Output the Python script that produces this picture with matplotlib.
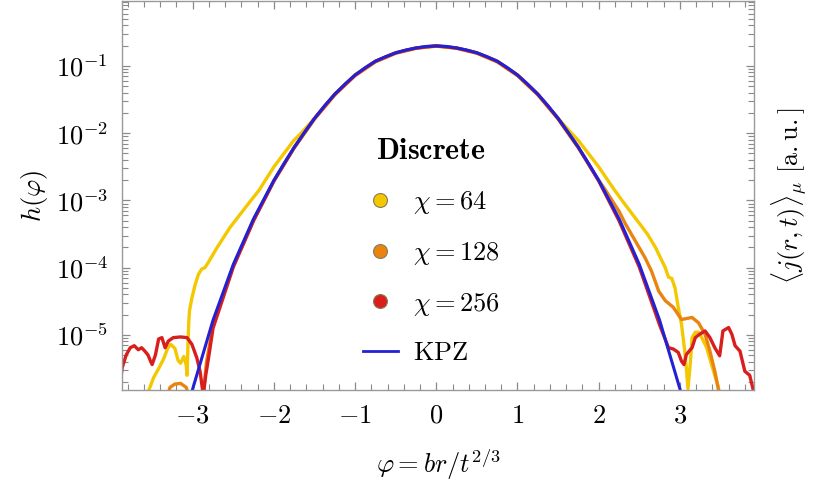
import numpy as np
import matplotlib
matplotlib.use('Agg')
import matplotlib.pyplot as plt
from matplotlib.lines import Line2D
from matplotlib.ticker import MultipleLocator, LogLocator, NullFormatter

plt.rcParams['mathtext.fontset'] = 'cm'
plt.rcParams['font.family'] = 'serif'
plt.rcParams['font.serif'] = ['cmr10', 'DejaVu Serif']

# KPZ scaling curve, log10 h
kpz_phi = [-3.25, -3.0, -2.75, -2.5, -2.25, -2.0, -1.875, -1.75, -1.625, -1.5, -1.375, -1.25, -1.125, -1.0,
           -0.875, -0.75, -0.625, -0.5, -0.375, -0.25, -0.125, 0.0,
           0.125, 0.25, 0.375, 0.5, 0.625, 0.75, 0.875, 1.0, 1.125, 1.25, 1.375, 1.5, 1.625, 1.75, 1.875,
           2.0, 2.25, 2.5, 2.75, 3.0, 3.25]
kpz_log = [-7.0, -5.8, -4.78, -3.95, -3.27, -2.70, -2.45, -2.21, -1.99, -1.78, -1.59, -1.42, -1.27, -1.135,
           -1.025, -0.93, -0.862, -0.805, -0.763, -0.733, -0.71, -0.703,
           -0.71, -0.733, -0.763, -0.805, -0.862, -0.93, -1.025, -1.135, -1.27, -1.42, -1.59, -1.78, -1.99, -2.21, -2.45,
           -2.70, -3.27, -3.95, -4.78, -5.8, -7.0]

# chi = 64
phi_64 = [-3.55, -3.48, -3.42, -3.36, -3.31, -3.27, -3.22, -3.18, -3.15, -3.11, -3.08, -3.07, -3.06, -3.05,
          -3.04, -3.01, -2.97, -2.93, -2.89, -2.85, -2.81, -2.70, -2.54, -2.29, -2.19, -2.0, -1.76, -1.65, -1.5,
          -1.25, -1.0, -0.75, -0.5, -0.25, 0.0, 0.25, 0.5, 0.75, 1.0, 1.25, 1.5,
          1.65, 1.75, 2.0, 2.18, 2.3, 2.45, 2.6, 2.70, 2.82, 2.86, 2.90, 2.94, 2.98, 3.02, 3.04, 3.06, 3.08, 3.10,
          3.13, 3.15, 3.19, 3.23, 3.27, 3.33, 3.39, 3.45, 3.50]
log_64 = [-5.85, -5.63, -5.5, -5.36, -5.2, -5.14, -5.2, -5.38, -5.42, -5.32, -5.45, -5.6, -5.2, -4.84,
          -4.64, -4.45, -4.25, -4.10, -4.02, -4.0, -3.925, -3.70, -3.40, -3.01, -2.86, -2.50, -2.115, -1.98, -1.78,
          -1.42, -1.135, -0.93, -0.805, -0.733, -0.703, -0.733, -0.805, -0.93, -1.135, -1.42, -1.78,
          -1.98, -2.11, -2.5, -2.82, -3.02, -3.26, -3.5, -3.70, -4.0, -4.14, -4.16, -4.30, -4.59, -4.84, -5.04, -5.24, -5.5, -5.8,
          -5.4, -5.04, -4.96, -4.96, -5.04, -5.19, -5.44, -5.68, -5.9]

# chi = 128
phi_128 = [-3.33, -3.28, -3.22, -3.15, -3.08, -3.03, -2.88, -2.83, -2.75, -2.5, -2.25, -2.0, -1.75, -1.5,
           -1.25, -1.0, -0.75, -0.5, -0.25, 0.0, 0.25, 0.5, 0.75, 1.0, 1.25, 1.5,
           1.75, 2.0, 2.08, 2.25, 2.33, 2.45, 2.57, 2.65, 2.74, 2.82, 2.92, 3.02, 3.15, 3.23, 3.31, 3.37,
           3.43, 3.47, 3.50]
log_128 = [-6.0, -5.78, -5.73, -5.72, -5.78, -6.0, -6.0, -5.4, -4.85, -3.97, -3.29, -2.71, -2.22, -1.79,
           -1.43, -1.145, -0.94, -0.812, -0.738, -0.706, -0.738, -0.812, -0.94, -1.145, -1.43, -1.79,
           -2.22, -2.70, -2.84, -3.16, -3.35, -3.60, -3.85, -4.05, -4.35, -4.49, -4.59, -4.77, -4.74, -4.82, -4.99, -5.24,
           -5.54, -5.78, -6.0]

# chi = 256
phi_256 = [-3.88, -3.87, -3.82, -3.77, -3.72, -3.67, -3.63, -3.59, -3.55, -3.52, -3.50, -3.46, -3.42, -3.38,
           -3.34, -3.30, -3.24, -3.15, -3.07, -3.01, -2.95, -2.91, -2.87, -2.84, -2.80, -2.75, -2.5, -2.25,
           -2.0, -1.75, -1.5, -1.25, -1.0, -0.75, -0.5, -0.25, 0.0, 0.25, 0.5, 0.75, 1.0, 1.25, 1.5,
           1.75, 2.0, 2.25, 2.5, 2.75, 2.86, 2.92, 2.98, 3.02, 3.05, 3.08, 3.15, 3.19, 3.23, 3.31, 3.37,
           3.43, 3.49, 3.53, 3.60, 3.64, 3.68, 3.74, 3.80, 3.86, 3.90]
log_256 = [-5.6, -5.49, -5.3, -5.19, -5.16, -5.22, -5.19, -5.24, -5.3, -5.39, -5.44, -5.3, -5.06, -5.04,
           -5.19, -5.09, -5.04, -5.03, -5.04, -5.14, -5.34, -5.54, -5.9, -5.6, -5.3, -4.9, -3.99, -3.30,
           -2.71, -2.21, -1.78, -1.42, -1.135, -0.93, -0.805, -0.733, -0.700, -0.733, -0.805, -0.93, -1.135, -1.42, -1.78,
           -2.21, -2.71, -3.30, -3.99, -4.85, -5.19, -5.21, -5.26, -5.39, -5.44, -5.29, -5.19, -5.04, -5.0, -4.94, -5.04,
           -5.19, -5.31, -4.94, -4.89, -4.99, -5.16, -5.24, -5.54, -5.6, -5.8]

labels = [r'$\chi = 64$', r'$\chi = 128$', r'$\chi = 256$']
colors = ['#f4c800', '#ea8410', '#d91e1e']
kpz_color = '#2222d4'

fig = plt.figure(figsize=(8.14, 4.87), dpi=100)
ax = fig.add_axes([0.150, 0.199, 0.776, 0.799])

series = [(phi_64, log_64), (phi_128, log_128), (phi_256, log_256)]
for (p, l), c in zip(series, colors):
    ax.plot(p, 10.0 ** np.array(l), color=c, lw=2.4, solid_joinstyle='round')
ax.plot(kpz_phi, 10.0 ** np.array(kpz_log), color=kpz_color, lw=2.2, solid_joinstyle='round')

ax.set_yscale('log')
ax.set_xlim(-3.87, 3.91)
ax.set_ylim(10 ** -5.82, 10 ** -0.034)

ax.set_xticks([-3, -2, -1, 0, 1, 2, 3])
ax.set_xticklabels([r'$-3$', r'$-2$', r'$-1$', r'$0$', r'$1$', r'$2$', r'$3$'])
ax.xaxis.set_minor_locator(MultipleLocator(0.2))
ax.set_yticks([1e-5, 1e-4, 1e-3, 1e-2, 1e-1])
ax.set_yticklabels([r'$10^{-5}$', r'$10^{-4}$', r'$10^{-3}$', r'$10^{-2}$', r'$10^{-1}$'])
ax.yaxis.set_minor_locator(LogLocator(base=10, subs=np.arange(2, 10)))
ax.yaxis.set_minor_formatter(NullFormatter())

ax.tick_params(which='both', direction='in', top=True, right=True, color='#8a8a8a', labelsize=19)
ax.tick_params(which='major', length=6, width=0.9, pad=10)
ax.tick_params(which='minor', length=4, width=0.8)
for s in ax.spines.values():
    s.set_color('#9a9a9a')
    s.set_linewidth(1.0)

ax.set_xlabel(r'$\varphi = br/t^{2/3}$', fontsize=19, labelpad=14)
ax.set_ylabel(r'$h(\varphi)$', fontsize=19, labelpad=4)
ax.text(1.057, 0.5, r'$\langle j(r,t)\rangle_{\mu}\ [\mathrm{a.u.}]$', transform=ax.transAxes,
        rotation=90, va='center', ha='center', fontsize=19)

handles = [Line2D([], [], ls='none', marker='o', ms=10, mfc=c, mec='#8a7a5a', mew=0.8) for c in colors]
handles.append(Line2D([], [], color=kpz_color, lw=2.0))
leg = ax.legend(handles, labels + [r'$\mathrm{KPZ}$'], title=r'$\mathbf{Discrete}$', frameon=False,
                fontsize=19, loc='center', bbox_to_anchor=(0.489, 0.356),
                labelspacing=0.9, handlelength=1.35, handletextpad=0.55)
leg.get_title().set_fontsize(21.5)

fig.savefig('out.png', dpi=100)
